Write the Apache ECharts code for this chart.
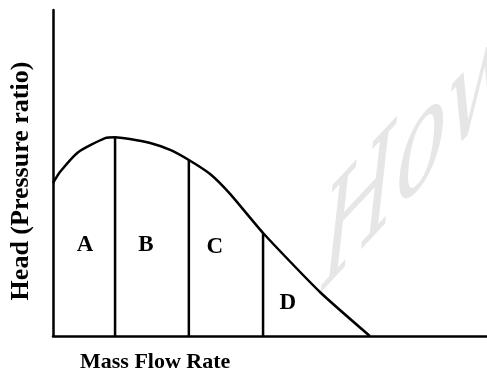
<html>
<head>
    <script src="https://cdn.jsdelivr.net/npm/echarts@6/dist/echarts.min.js"></script>
    <style>
        html, body { margin: 0; padding: 0; background: #fff; }
        #chart { width: 487px; height: 375px; }
    </style>
</head>
<body>
    <div id="chart"></div>
    <script>
        // characteristic curve (arbitrary units, 0-100 on both axes)
        var curveX = [0, 1.6, 5.8, 12.0, 14.3, 17.7, 22.4, 27.0, 31.3, 36.2, 40.8, 48.4, 61.5, 73.0];
        var curveY = [46.9, 50.3, 56.4, 60.7, 61.0, 60.4, 59.2, 57.1, 54.0, 49.7, 43.6, 31.6, 13.5, 0];

        // vertical dividers between regions
        var dividerX = [14.3, 31.3, 48.4];
        var dividerTop = [61.0, 54.0, 31.6];

        // region letters
        var regionNames = ['A', 'B', 'C', 'D'];
        var regionX = [7.4, 21.4, 37.3, 54.1];
        var regionY = [27.9, 27.9, 27.3, 10.1];

        var xTitle = 'Mass Flow Rate';
        var yTitle = 'Head (Pressure ratio)';

        var serif = '"Liberation Serif", "DejaVu Serif", serif';
        var myChart = echarts.init(document.getElementById('chart'));

        var curveData = curveX.map(function (x, i) { return [x, curveY[i]]; });

        var series = [{
            type: 'line',
            data: curveData,
            showSymbol: false,
            smooth: 0.2,
            lineStyle: { color: '#000', width: 2.5 },
            silent: true,
            animation: false
        }];

        dividerX.forEach(function (x, i) {
            series.push({
                type: 'line',
                data: [[x, 0], [x, dividerTop[i]]],
                showSymbol: false,
                lineStyle: { color: '#000', width: 2.5 },
                silent: true,
                animation: false
            });
        });

        series.push({
            type: 'scatter',
            symbolSize: 0,
            itemStyle: { opacity: 1 },
            data: regionNames.map(function (n, i) { return { name: n, value: [regionX[i], regionY[i]] }; }),
            label: {
                show: true,
                position: 'inside',
                formatter: '{b}',
                color: '#000',
                opacity: 1,
                textBorderWidth: 0,
                fontFamily: serif,
                fontWeight: 'bold',
                fontSize: 23
            },
            silent: true,
            animation: false
        });

        var axisCommon = {
            type: 'value',
            min: 0,
            max: 100,
            axisLine: { show: true, lineStyle: { color: '#000', width: 2.5 } },
            axisTick: { show: false },
            axisLabel: { show: false },
            splitLine: { show: false }
        };

        var option = {
            backgroundColor: '#fff',
            grid: { left: 53, right: 0, top: 10, bottom: 39 },
            xAxis: axisCommon,
            yAxis: axisCommon,
            graphic: [
                {
                    type: 'text',
                    x: 322,
                    y: 385,
                    originX: 0,
                    originY: 0,
                    scaleX: 0.65,
                    skewY: 0.82,
                    z: -1,
                    style: {
                        x: 0,
                        y: 0,
                        text: 'How',
                        fill: '#e6e6e6',
                        font: 'italic 130px "DejaVu Serif", serif',
                        textVerticalAlign: 'bottom'
                    }
                },
                {
                    type: 'text',
                    x: 80,
                    y: 362,
                    style: {
                        text: xTitle,
                        fill: '#000',
                        font: 'bold 22px ' + serif,
                        textVerticalAlign: 'middle'
                    }
                },
                {
                    type: 'text',
                    x: 21,
                    y: 181,
                    rotation: Math.PI / 2,
                    style: {
                        text: yTitle,
                        fill: '#000',
                        font: 'bold 26px ' + serif,
                        textAlign: 'center',
                        textVerticalAlign: 'middle'
                    }
                }
            ],
            series: series
        };
        myChart.setOption(option);
    </script>
</body>
</html>
